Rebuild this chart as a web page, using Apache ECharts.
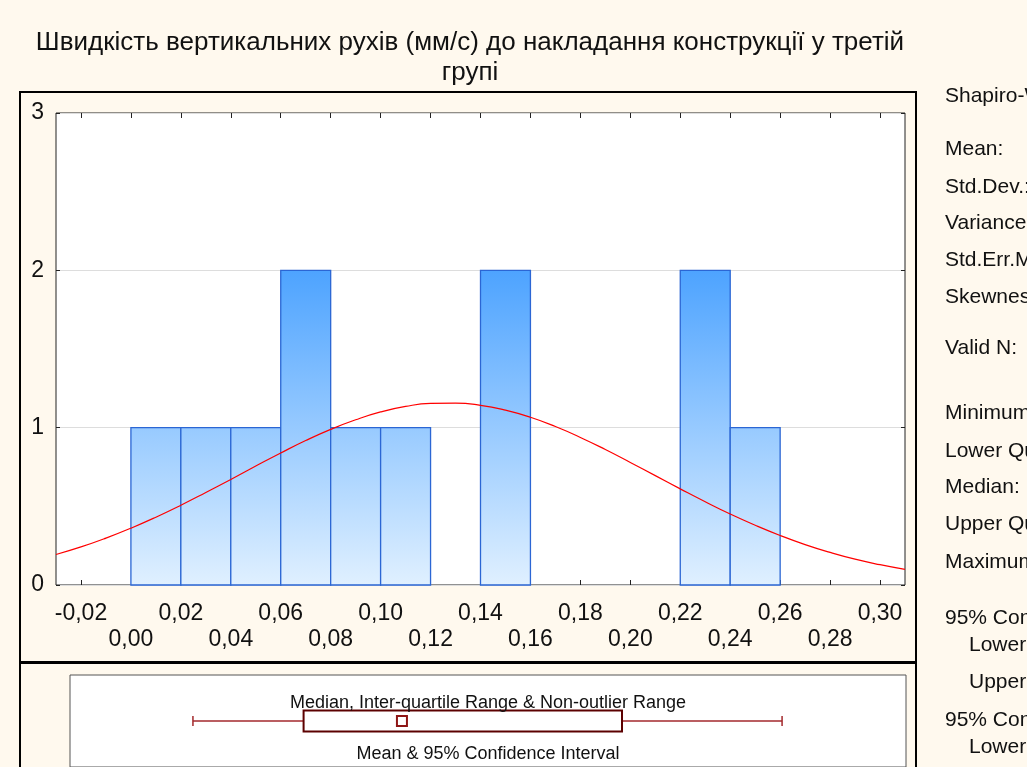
<!DOCTYPE html>
<html>
<head>
<meta charset="utf-8">
<script src="https://cdn.jsdelivr.net/npm/echarts@6/dist/echarts.min.js"></script>
<style>
  html, body { margin: 0; padding: 0; background: #FFF9EE; }
  #chart { width: 1027px; height: 767px; }
</style>
</head>
<body>
<div id="chart"></div>
<script>
// Histogram bins (left edges) and counts
const binStarts = [0.00, 0.02, 0.04, 0.06, 0.08, 0.10, 0.12, 0.14, 0.16, 0.18, 0.20, 0.22, 0.24];
const binCounts = [1, 1, 1, 2, 1, 1, 0, 2, 0, 0, 0, 2, 1];
const binWidth = 0.02;

// Expected normal curve, sampled along the x axis
const curveX = [-0.03, -0.02, -0.01, 0.00, 0.01, 0.02, 0.03, 0.04, 0.05, 0.06, 0.07, 0.08,
                0.09, 0.10, 0.11, 0.12, 0.13, 0.14, 0.15, 0.16, 0.17, 0.18, 0.19, 0.20,
                0.21, 0.22, 0.23, 0.24, 0.25, 0.26, 0.27, 0.28, 0.29, 0.30, 0.31];
const curveY = [0.194, 0.242, 0.298, 0.361, 0.431, 0.507, 0.588, 0.671, 0.756, 0.839, 0.918, 0.989,
                1.050, 1.100, 1.135, 1.154, 1.156, 1.142, 1.111, 1.066, 1.007, 0.938, 0.861, 0.779,
                0.695, 0.611, 0.529, 0.451, 0.380, 0.315, 0.257, 0.207, 0.164, 0.129, 0.099];

// Axis ticks and labels
const xMin = -0.03, xMax = 0.31;
const xTicks = [-0.02, 0.00, 0.02, 0.04, 0.06, 0.08, 0.10, 0.12, 0.14, 0.16, 0.18, 0.20, 0.22, 0.24, 0.26, 0.28, 0.30];
const xLabelsUpper = [-0.02, 0.02, 0.06, 0.10, 0.14, 0.18, 0.22, 0.26, 0.30];
const xLabelsLower = [0.00, 0.04, 0.08, 0.12, 0.16, 0.20, 0.24, 0.28];
const yMin = 0, yMax = 3, yStep = 1;

// Box plot summary
const boxMin = 0.020;
const boxQ1 = 0.065;
const boxMedian = 0.105;
const boxQ3 = 0.1945;
const boxMax = 0.2596;

// Text
const titleText = 'Швидкість вертикальних рухів (мм/с) до накладання конструкції у третій\nгрупі';
const boxTopLabel = 'Median, Inter-quartile Range & Non-outlier Range';
const boxBottomLabel = 'Mean & 95% Confidence Interval';
const statLabels = ['Shapiro-Wilk W', 'Mean:', 'Std.Dev.:', 'Variance:', 'Std.Err.Mean:', 'Skewness:',
                    'Valid N:', 'Minimum:', 'Lower Quartile:', 'Median:', 'Upper Quartile:', 'Maximum:',
                    '95% Confidence SD', 'Lower:', 'Upper:', '95% Confidence Mean', 'Lower:'];
const statIndent = [0, 0, 0, 0, 0, 0, 0, 0, 0, 0, 0, 0, 0, 1, 1, 0, 1];
const statRowY = [96, 149, 187, 223, 260, 297, 348, 413, 451, 487, 524, 562, 618, 645, 682, 720, 747];

const FONT = '"Liberation Sans", Arial, sans-serif';
const fmtComma = v => (Math.round(v * 100) / 100).toFixed(2).replace('.', ',');

// Bar fill: vertical gradient shared across bars (darker for taller bars)
const barTop = [77, 163, 255], barBottom = [224, 240, 255];
function levelColor(level) {
  const t = Math.min(1, level / 2);
  const c = barBottom.map((b, i) => Math.round(b + (barTop[i] - b) * t));
  return 'rgb(' + c.join(',') + ')';
}

const histData = binStarts.map((s, i) => [s, s + binWidth, binCounts[i]]).filter(d => d[2] > 0);
const curveData = curveX.map((x, i) => [x, curveY[i]]);

const chart = echarts.init(document.getElementById('chart'), null, { renderer: 'canvas' });

const statGraphics = statLabels.map((t, i) => ({
  type: 'text',
  x: statIndent[i] ? 969 : 945,
  y: statRowY[i],
  style: { text: t, font: '21px ' + FONT, fill: '#111', verticalAlign: 'middle', align: 'left' }
}));

const tickStyle = { color: '#222', width: 1 };

chart.setOption({
  backgroundColor: '#FFF9EE',
  animation: false,
  grid: [
    { left: 56, top: 113, width: 849, height: 472, show: true, backgroundColor: '#FFFFFF',
      borderColor: '#222', borderWidth: 1 },
    { left: 70, top: 675, width: 836, height: 106, show: true, backgroundColor: '#FFFFFF',
      borderColor: '#555', borderWidth: 1 }
  ],
  xAxis: [
    { type: 'value', gridIndex: 0, position: 'bottom', min: xMin, max: xMax,
      axisLine: { show: false, onZero: false },
      axisTick: { show: true, inside: true, length: 5, customValues: xTicks, lineStyle: tickStyle },
      axisLabel: { customValues: xLabelsUpper, formatter: fmtComma, margin: 17,
                   fontSize: 23, fontFamily: FONT, color: '#111' },
      splitLine: { show: false } },
    { type: 'value', gridIndex: 0, position: 'bottom', min: xMin, max: xMax,
      axisLine: { show: false, onZero: false }, axisTick: { show: false },
      axisLabel: { customValues: xLabelsLower, formatter: fmtComma, margin: 43,
                   fontSize: 23, fontFamily: FONT, color: '#111' },
      splitLine: { show: false } },
    { type: 'value', gridIndex: 0, position: 'top', min: xMin, max: xMax,
      axisLine: { show: false, onZero: false },
      axisTick: { show: true, inside: true, length: 5, customValues: xTicks, lineStyle: tickStyle },
      axisLabel: { show: false }, splitLine: { show: false } },
    { type: 'value', gridIndex: 1, min: xMin, max: xMax, show: false }
  ],
  yAxis: [
    { type: 'value', gridIndex: 0, position: 'left', min: yMin, max: yMax, interval: yStep,
      axisLine: { show: false, onZero: false },
      axisTick: { show: true, inside: true, length: 4, lineStyle: tickStyle },
      axisLabel: { margin: 12, fontSize: 23, fontFamily: FONT, color: '#111' },
      splitLine: { show: true, lineStyle: { color: '#DDDDDD', width: 1 } } },
    { type: 'value', gridIndex: 0, position: 'right', min: yMin, max: yMax, interval: yStep,
      axisLine: { show: false, onZero: false },
      axisTick: { show: true, inside: true, length: 4, lineStyle: tickStyle },
      axisLabel: { show: false }, splitLine: { show: false } },
    { type: 'value', gridIndex: 1, min: 0, max: 1, show: false }
  ],
  series: [
    {
      type: 'custom', name: 'histogram', xAxisIndex: 0, yAxisIndex: 0,
      data: histData,
      renderItem: function (params, api) {
        const p0 = api.coord([api.value(0), api.value(2)]);
        const p1 = api.coord([api.value(1), 0]);
        const lvl = api.value(2);
        return {
          type: 'rect',
          shape: { x: p0[0], y: p0[1], width: p1[0] - p0[0], height: p1[1] - p0[1] },
          style: {
            fill: new echarts.graphic.LinearGradient(0, 0, 0, 1, [
              { offset: 0, color: levelColor(lvl) },
              { offset: 1, color: levelColor(0) }
            ]),
            stroke: '#2B66D4', lineWidth: 1.3
          }
        };
      },
      z: 2
    },
    {
      type: 'line', name: 'normal', xAxisIndex: 0, yAxisIndex: 0,
      data: curveData, smooth: true, showSymbol: false, clip: true,
      lineStyle: { color: '#FF0000', width: 1.2 }, z: 3
    },
    {
      type: 'custom', name: 'box', xAxisIndex: 3, yAxisIndex: 2,
      data: [[boxMin, boxQ1, boxMedian, boxQ3, boxMax, 0.5]],
      renderItem: function (params, api) {
        const yc = api.value(5);
        const pMin = api.coord([api.value(0), yc]);
        const pQ1 = api.coord([api.value(1), yc]);
        const pMed = api.coord([api.value(2), yc]);
        const pQ3 = api.coord([api.value(3), yc]);
        const pMax = api.coord([api.value(4), yc]);
        const y = pMin[1];
        const whisker = { stroke: '#A3292C', lineWidth: 1.5 };
        return {
          type: 'group',
          children: [
            { type: 'line', shape: { x1: pMin[0], y1: y, x2: pQ1[0], y2: y }, style: whisker },
            { type: 'line', shape: { x1: pQ3[0], y1: y, x2: pMax[0], y2: y }, style: whisker },
            { type: 'line', shape: { x1: pMin[0], y1: y - 5, x2: pMin[0], y2: y + 5 }, style: whisker },
            { type: 'line', shape: { x1: pMax[0], y1: y - 5, x2: pMax[0], y2: y + 5 }, style: whisker },
            { type: 'rect', shape: { x: pQ1[0], y: y - 10.5, width: pQ3[0] - pQ1[0], height: 21 },
              style: { fill: '#FFFFFF', stroke: '#5C0000', lineWidth: 2 } },
            { type: 'rect', shape: { x: pMed[0] - 5, y: y - 5, width: 10, height: 10 },
              style: { fill: '#FFFFFF', stroke: '#8E1515', lineWidth: 2 } }
          ]
        };
      },
      z: 3
    }
  ],
  graphic: [
    { type: 'text', x: 470, y: 28,
      style: { text: titleText, font: '26px ' + FONT, fill: '#111', align: 'center',
               verticalAlign: 'top', lineHeight: 30 } },
    { type: 'rect', shape: { x: 20, y: 92, width: 896, height: 700 },
      style: { fill: 'none', stroke: '#000', lineWidth: 2 }, z: 10 },
    { type: 'line', shape: { x1: 20, y1: 662.5, x2: 916, y2: 662.5 },
      style: { stroke: '#000', lineWidth: 3 }, z: 10 },
    { type: 'text', x: 488, y: 703,
      style: { text: boxTopLabel, font: '18px ' + FONT, fill: '#111', align: 'center', verticalAlign: 'middle' }, z: 10 },
    { type: 'text', x: 488, y: 754,
      style: { text: boxBottomLabel, font: '18px ' + FONT, fill: '#111', align: 'center', verticalAlign: 'middle' }, z: 10 }
  ].concat(statGraphics)
});
</script>
</body>
</html>
